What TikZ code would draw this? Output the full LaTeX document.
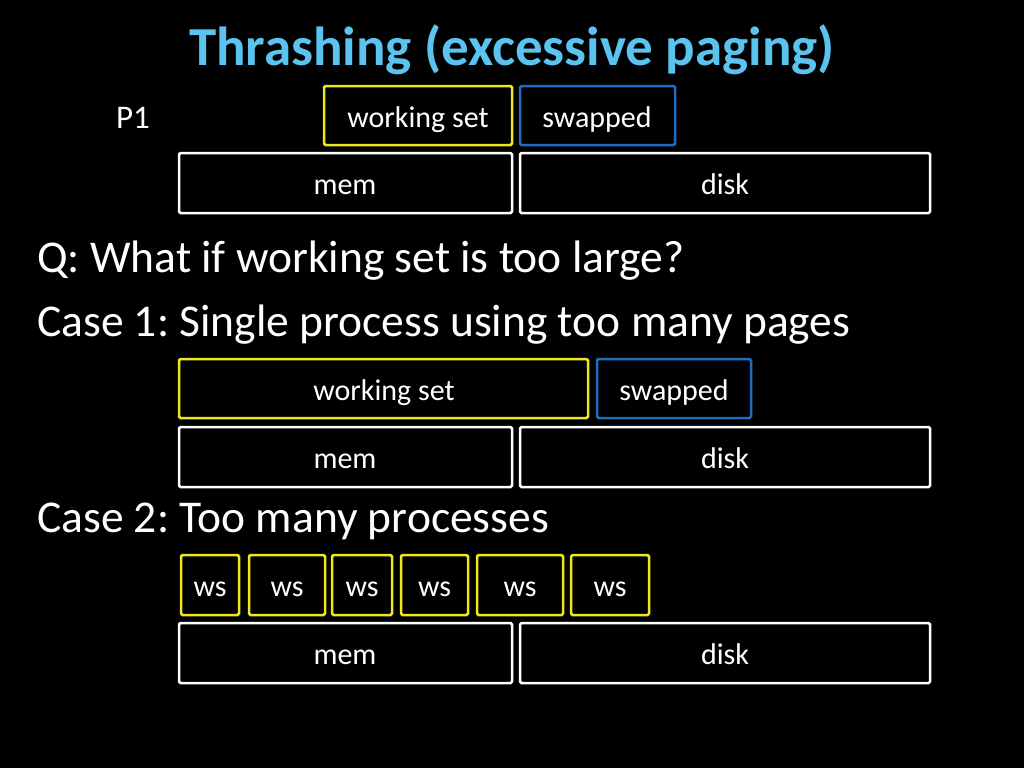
\documentclass[tikz,border=0pt]{standalone}
\usepackage{fontspec}
\setmainfont{Carlito}
\frenchspacing
\begin{document}
\begin{tikzpicture}[x=1pt,y=-1pt,
  bx/.style={draw=white,line width=2.5pt,rounded corners=1.5pt},
  yb/.style={draw={rgb,255:red,240;green,230;blue,30},line width=2.5pt,rounded corners=1.5pt},
  bb/.style={draw={rgb,255:red,30;green,110;blue,190},line width=2.5pt,rounded corners=1.5pt},
  bt/.style={text=white,font=\fontsize{30}{32}\selectfont,anchor=base,inner sep=0pt},
  big/.style={text=white,font=\fontsize{45.5}{48}\selectfont,anchor=base west,inner sep=0pt}]
\fill[black] (0,0) rectangle (1024,768);
\node[text={rgb,255:red,90;green,195;blue,240},font=\bfseries\fontsize{55}{58}\selectfont,anchor=base,inner sep=0pt] (title) at (512,66) {Thrashing (excessive paging)};
\node[bt,font=\fontsize{33}{35}\selectfont] (p1) at (133,128) {P1};
\draw[yb] (324,86) rectangle (512,145); \node[bt] (ws0) at (418,127) {working set};
\draw[bb] (520,86) rectangle (675,145); \node[bt] (sw0) at (597,127) {swapped};
\draw[bx] (179,153) rectangle (512,213); \node[bt] (m0) at (345,194) {mem};
\draw[bx] (520,153) rectangle (930,213); \node[bt] (d0) at (725,194) {disk};
\node[big] (q) at (37,272) {Q: What if working set is too large?};
\node[big] (c1) at (37,336) {Case 1: Single process using too many pages};
\draw[yb] (179,359) rectangle (588,418); \node[bt] (ws1) at (384,400) {working set};
\draw[bb] (597,359) rectangle (751,418); \node[bt] (sw1) at (674,400) {swapped};
\draw[bx] (179,427) rectangle (512,487); \node[bt] (m1) at (345,468) {mem};
\draw[bx] (520,427) rectangle (930,487); \node[bt] (d1) at (725,468) {disk};
\node[big] (c2) at (37,532) {Case 2: Too many processes};
\foreach \a/\b [count=\i] in {181/239,249/325,332/392,401/468,477/563,571/649}{
  \draw[yb] (\a,555) rectangle (\b,615);
  \node[bt] (w\i) at ({(\a+\b)/2},596) {ws};}
\draw[bx] (179,623) rectangle (512,683); \node[bt] (m2) at (345,664) {mem};
\draw[bx] (520,623) rectangle (930,683); \node[bt] (d2) at (725,664) {disk};
\end{tikzpicture}
\end{document}
